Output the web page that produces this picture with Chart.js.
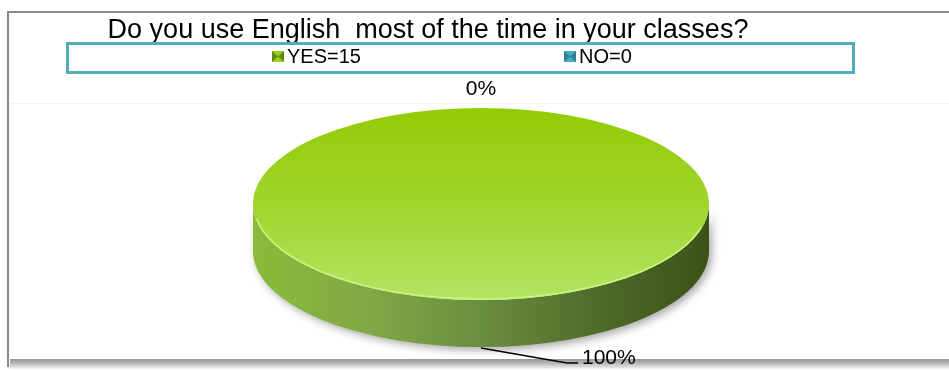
<!DOCTYPE html>
<html>
<head>
<meta charset="utf-8">
<script src="https://cdn.jsdelivr.net/npm/chart.js@4.4.1/dist/chart.umd.min.js"></script>
<style>
  html, body { margin: 0; padding: 0; background: #fff; }
  #wrap { width: 949px; height: 370px; }
</style>
</head>
<body>
<div id="wrap"><canvas id="grafico_ingles" width="949" height="370"></canvas></div>
<script>
// respostas
var titulo = 'Do you use English  most of the time in your classes?';
var categorias = ['YES', 'NO'];
var respostas = [15, 0];

var total = respostas.reduce(function (a, b) { return a + b; }, 0);

// cores de cada fatia (topo, legenda)
var cores = ['#9bd21c', '#4bacc6'];
var coresEscuras = ['#5f8a16', '#2f7f95'];

var ALTURA_3D = 47;

function corTopo(c) {
    var area = c.chart.chartArea;
    if (!area) return cores[c.dataIndex];
    if (c.dataIndex !== 0) return cores[c.dataIndex];
    var g = c.chart.ctx.createLinearGradient(0, area.top, 0, area.bottom);
    g.addColorStop(0, '#92cc04');
    g.addColorStop(0.5, '#9fd52c');
    g.addColorStop(1, '#b4e465');
    return g;
}

// moldura, titulo e legenda
var moldura = {
    id: 'moldura',
    beforeDraw: function (chart) {
        var ctx = chart.ctx;
        ctx.save();
        ctx.fillStyle = '#fff';
        ctx.fillRect(0, 0, chart.width, chart.height);

        // sombra inferior
        var gs = ctx.createLinearGradient(0, 358, 0, 369);
        gs.addColorStop(0, '#8e8e8e');
        gs.addColorStop(0.45, '#b4b4b4');
        gs.addColorStop(1, '#f4f4f4');
        ctx.fillStyle = gs;
        ctx.fillRect(10, 359, chart.width - 10, 10);

        ctx.strokeStyle = '#8a8a8a';
        ctx.lineWidth = 2;
        ctx.beginPath();
        ctx.moveTo(8, 367);
        ctx.lineTo(8, 12);
        ctx.lineTo(chart.width, 12);
        ctx.stroke();

        ctx.strokeStyle = '#f3f3f3';
        ctx.lineWidth = 1;
        ctx.beginPath();
        ctx.moveTo(10, 103.5);
        ctx.lineTo(chart.width, 103.5);
        ctx.stroke();

        ctx.fillStyle = '#000';
        ctx.font = '27px "Liberation Sans", Arial, sans-serif';
        ctx.textAlign = 'center';
        ctx.textBaseline = 'alphabetic';
        ctx.fillText(titulo, 428, 38);

        // caixa da legenda
        ctx.strokeStyle = '#52aeb6';
        ctx.lineWidth = 3;
        ctx.strokeRect(67.5, 43.5, 786, 29);

        var xs = [272, 564];
        ctx.font = '20px "Liberation Sans", Arial, sans-serif';
        ctx.textAlign = 'left';
        ctx.textBaseline = 'middle';
        categorias.forEach(function (cat, i) {
            var x = xs[i], y = 51, s = 12;
            ctx.fillStyle = coresEscuras[i];
            ctx.fillRect(x, y, s, s - 1);
            ctx.fillStyle = cores[i];
            ctx.beginPath();
            ctx.moveTo(x, y);
            ctx.lineTo(x + s, y);
            ctx.lineTo(x + s / 2, y + (s - 1) / 2);
            ctx.closePath();
            ctx.fill();
            ctx.beginPath();
            ctx.moveTo(x, y + s - 1);
            ctx.lineTo(x + s, y + s - 1);
            ctx.lineTo(x + s / 2, y + (s - 1) / 2);
            ctx.closePath();
            ctx.fill();
            ctx.fillStyle = '#000';
            ctx.fillText(cat + '=' + respostas[i], x + s + 3, 57);
        });
        ctx.restore();
    }
};

// pizza 3D: parede lateral antes, topo achatado em elipse
var pizza3d = {
    id: 'pizza3d',
    beforeDatasetsDraw: function (chart) {
        var ctx = chart.ctx;
        var a = chart.chartArea;
        var meta = chart.getDatasetMeta(0);
        var cx = (a.left + a.right) / 2, cy = (a.top + a.bottom) / 2;
        var rx = a.width / 2, ry = a.height / 2;
        var R = meta.data[0].outerRadius;

        var lado = ctx.createLinearGradient(a.left, 0, a.right, 0);
        lado.addColorStop(0, '#8abb3a');
        lado.addColorStop(0.25, '#80a945');
        lado.addColorStop(0.5, '#6b8d40');
        lado.addColorStop(0.75, '#4f6c2a');
        lado.addColorStop(1, '#3b5217');

        meta.data.forEach(function (arc) {
            var p = arc.getProps(['startAngle', 'endAngle'], true);
            var s = Math.max(p.startAngle, 0), e = Math.min(p.endAngle, Math.PI);
            if (e <= s) return;
            ctx.save();
            ctx.shadowColor = 'rgba(0,0,0,0.35)';
            ctx.shadowBlur = 9;
            ctx.shadowOffsetX = 3;
            ctx.shadowOffsetY = 3;
            ctx.beginPath();
            ctx.ellipse(cx, cy, rx, ry, 0, s, e);
            ctx.ellipse(cx, cy + ALTURA_3D, rx, ry, 0, e, s, true);
            ctx.closePath();
            ctx.fillStyle = lado;
            ctx.fill();
            ctx.restore();
        });

        ctx.save();
        ctx.translate(cx, cy);
        ctx.scale(rx / R, ry / R);
        ctx.translate(-meta.data[0].x, -meta.data[0].y);
    },
    afterDatasetsDraw: function (chart) {
        var ctx = chart.ctx;
        ctx.restore();

        var a = chart.chartArea;
        var meta = chart.getDatasetMeta(0);
        var cx = (a.left + a.right) / 2, cy = (a.top + a.bottom) / 2;
        var rx = a.width / 2, ry = a.height / 2;

        // brilho na borda da frente
        ctx.save();
        ctx.strokeStyle = 'rgba(205,245,130,0.9)';
        ctx.lineWidth = 1.5;
        ctx.beginPath();
        ctx.ellipse(cx, cy, rx - 1, ry - 1, 0, 0.08 * Math.PI, 0.95 * Math.PI);
        ctx.stroke();
        ctx.restore();

        // rotulos de porcentagem
        ctx.save();
        ctx.font = '21px "Liberation Sans", Arial, sans-serif';
        ctx.fillStyle = '#000';
        ctx.strokeStyle = '#000';
        ctx.lineWidth = 1.5;
        meta.data.forEach(function (arc, i) {
            var p = arc.getProps(['startAngle', 'endAngle'], true);
            var m = (p.startAngle + p.endAngle) / 2;
            var ex = cx + rx * Math.cos(m);
            var ey = cy + ry * Math.sin(m);
            var txt = Math.round(respostas[i] / total * 100) + '%';
            if (Math.sin(m) > 0.5) {
                ey += ALTURA_3D;
                ctx.beginPath();
                ctx.moveTo(ex, ey + 1);
                ctx.lineTo(ex + 86, ey + 16);
                ctx.lineTo(ex + 97, ey + 16);
                ctx.stroke();
                ctx.textAlign = 'left';
                ctx.textBaseline = 'alphabetic';
                ctx.fillText(txt, ex + 101, ey + 17);
            } else {
                ctx.textAlign = 'center';
                ctx.textBaseline = 'middle';
                ctx.fillText(txt, ex, ey - 19);
            }
        });
        ctx.restore();
    }
};

var ctx = document.getElementById('grafico_ingles').getContext('2d');
var grafico = new Chart(ctx, {
    type: 'pie',
    data: {
        labels: categorias,
        datasets: [{
            data: respostas,
            backgroundColor: corTopo,
            borderWidth: 0
        }]
    },
    options: {
        responsive: false,
        animation: false,
        devicePixelRatio: 1,
        layout: { padding: { left: 253, right: 240, top: 108, bottom: 70 } },
        plugins: {
            legend: { display: false },
            title: { display: false },
            tooltip: { enabled: false }
        }
    },
    plugins: [moldura, pizza3d]
});
</script>
</body>
</html>
